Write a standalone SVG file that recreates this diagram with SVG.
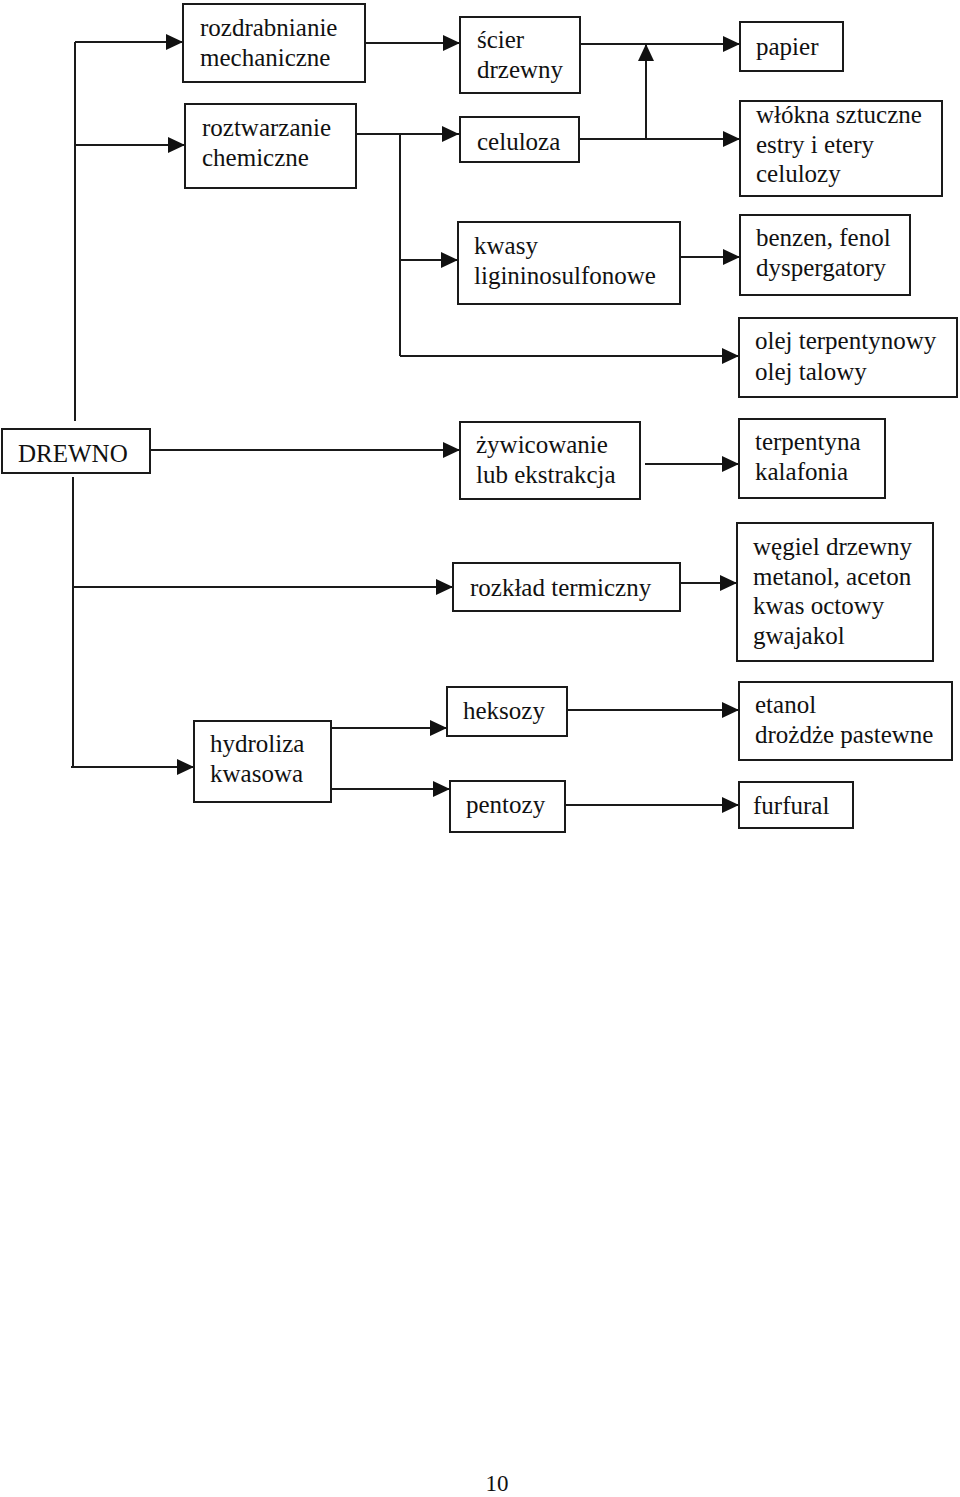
<svg xmlns="http://www.w3.org/2000/svg" width="960" height="1497" viewBox="0 0 960 1497">
<style>
.box{fill:#fff;stroke:#1a1a1a;stroke-width:2}
.t{font-family:"Liberation Serif","Times New Roman",serif;font-size:25px;fill:#111}
.c{fill:none;stroke:#1a1a1a;stroke-width:2}
</style>
<defs>
<marker id="ah" viewBox="0 0 17 16" refX="17" refY="8" markerWidth="17" markerHeight="16" markerUnits="userSpaceOnUse" orient="auto">
<path d="M0,0 L17,8 L0,16 Z" fill="#111"/>
</marker>
</defs>
<rect width="960" height="1497" fill="#fff"/>
<g id="connectors">
<path class="c" d="M75,42 V421"/>
<path class="c" d="M75,42 H183" marker-end="url(#ah)"/>
<path class="c" d="M75,145 H185" marker-end="url(#ah)"/>
<path class="c" d="M365,43 H460" marker-end="url(#ah)"/>
<path class="c" d="M356,134 H459" marker-end="url(#ah)"/>
<path class="c" d="M400,134 V356"/>
<path class="c" d="M400,260 H458" marker-end="url(#ah)"/>
<path class="c" d="M400,356 H739" marker-end="url(#ah)"/>
<path class="c" d="M580,44 H740" marker-end="url(#ah)"/>
<path class="c" d="M579,139 H740" marker-end="url(#ah)"/>
<path class="c" d="M646,139 V44" marker-end="url(#ah)"/>
<path class="c" d="M677,257 H740" marker-end="url(#ah)"/>
<path class="c" d="M150,450 H460" marker-end="url(#ah)"/>
<path class="c" d="M73,477 V767"/>
<path class="c" d="M73,587 H453" marker-end="url(#ah)"/>
<path class="c" d="M71,767 H194" marker-end="url(#ah)"/>
<path class="c" d="M331,728 H447" marker-end="url(#ah)"/>
<path class="c" d="M331,789 H450" marker-end="url(#ah)"/>
<path class="c" d="M645,464 H739" marker-end="url(#ah)"/>
<path class="c" d="M680,583 H737" marker-end="url(#ah)"/>
<path class="c" d="M567,710 H739" marker-end="url(#ah)"/>
<path class="c" d="M565,805 H739" marker-end="url(#ah)"/>
</g>
<g id="n_rozdrabnianie"><rect class="box" x="183" y="4" width="182" height="78"/><text class="t" x="200" y="36">rozdrabnianie</text><text class="t" x="200" y="66">mechaniczne</text></g>
<g id="n_roztwarzanie"><rect class="box" x="185" y="104" width="171" height="84"/><text class="t" x="202" y="136">roztwarzanie</text><text class="t" x="202" y="166">chemiczne</text></g>
<g id="n_scier"><rect class="box" x="460" y="17" width="120" height="76"/><text class="t" x="477" y="48">ścier</text><text class="t" x="477" y="78">drzewny</text></g>
<g id="n_celuloza"><rect class="box" x="460" y="117" width="119" height="45"/><text class="t" x="477" y="150">celuloza</text></g>
<g id="n_kwasy"><rect class="box" x="458" y="222" width="222" height="82"/><text class="t" x="474" y="254">kwasy</text><text class="t" x="474" y="284">ligininosulfonowe</text></g>
<g id="n_papier"><rect class="box" x="740" y="22" width="103" height="49"/><text class="t" x="756" y="55">papier</text></g>
<g id="n_wlokna"><rect class="box" x="740" y="101" width="202" height="95"/><text class="t" x="756" y="123">włókna sztuczne</text><text class="t" x="756" y="153">estry i etery</text><text class="t" x="756" y="182">celulozy</text></g>
<g id="n_benzen"><rect class="box" x="740" y="215" width="170" height="80"/><text class="t" x="756" y="246">benzen, fenol</text><text class="t" x="756" y="276">dyspergatory</text></g>
<g id="n_olej"><rect class="box" x="739" y="318" width="218" height="79"/><text class="t" x="755" y="349">olej terpentynowy</text><text class="t" x="755" y="380">olej talowy</text></g>
<g id="n_drewno"><rect class="box" x="2" y="429" width="148" height="44"/><text class="t" x="18" y="462">DREWNO</text></g>
<g id="n_zywicowanie"><rect class="box" x="460" y="422" width="180" height="77"/><text class="t" x="476" y="453">żywicowanie</text><text class="t" x="476" y="483">lub ekstrakcja</text></g>
<g id="n_terpentyna"><rect class="box" x="739" y="419" width="146" height="79"/><text class="t" x="755" y="450">terpentyna</text><text class="t" x="755" y="480">kalafonia</text></g>
<g id="n_rozklad"><rect class="box" x="453" y="563" width="227" height="48"/><text class="t" x="470" y="596">rozkład termiczny</text></g>
<g id="n_wegiel"><rect class="box" x="737" y="523" width="196" height="138"/><text class="t" x="753" y="555">węgiel drzewny</text><text class="t" x="753" y="585">metanol, aceton</text><text class="t" x="753" y="614">kwas octowy</text><text class="t" x="753" y="644">gwajakol</text></g>
<g id="n_hydroliza"><rect class="box" x="194" y="721" width="137" height="81"/><text class="t" x="210" y="752">hydroliza</text><text class="t" x="210" y="782">kwasowa</text></g>
<g id="n_heksozy"><rect class="box" x="447" y="687" width="120" height="49"/><text class="t" x="463" y="719">heksozy</text></g>
<g id="n_pentozy"><rect class="box" x="450" y="781" width="115" height="51"/><text class="t" x="466" y="813">pentozy</text></g>
<g id="n_etanol"><rect class="box" x="739" y="682" width="213" height="78"/><text class="t" x="755" y="713">etanol</text><text class="t" x="755" y="743">drożdże pastewne</text></g>
<g id="n_furfural"><rect class="box" x="739" y="782" width="114" height="46"/><text class="t" x="753" y="814">furfural</text></g>
<text class="t" x="497" y="1491" text-anchor="middle" style="font-size:23px">10</text>
</svg>
